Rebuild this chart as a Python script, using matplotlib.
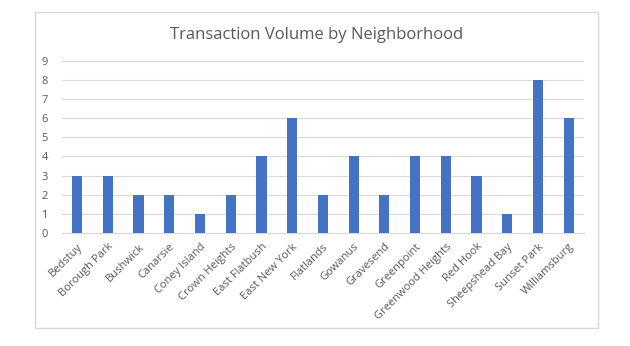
import matplotlib.pyplot as plt
from matplotlib.patches import Rectangle

neighborhoods = ["Bedstuy", "Borough Park", "Bushwick", "Canarsie", "Coney Island",
                 "Crown Heights", "East Flatbush", "East New York", "Flatlands",
                 "Gowanus", "Gravesend", "Greenpoint", "Greenwood Heights",
                 "Red Hook", "Sheepshead Bay", "Sunset Park", "Williamsburg"]
volumes = [3, 3, 2, 2, 1, 2, 4, 6, 2, 4, 2, 4, 4, 3, 1, 8, 6]
y_ticks = list(range(0, 10))

plt.rcParams['font.family'] = ['Open Sans', 'DejaVu Sans']

fig = plt.figure(figsize=(6.3, 3.46), dpi=100)
ax = fig.add_axes([0.098, 0.327, 0.829, 0.497])

# outer chart border
fig.patches.append(Rectangle((35/630, 1-328/346), 563/630, 316/346,
                             transform=fig.transFigure, fill=False,
                             edgecolor="#D9D9D9", linewidth=1))

x = range(len(neighborhoods))
ax.bar(x, volumes, width=0.33, color="#4472C4", zorder=3)

ax.set_xlim(-0.5, len(neighborhoods) - 0.5)
ax.set_ylim(0, 9)
ax.set_yticks(y_ticks)
ax.yaxis.grid(True, color="#D9D9D9", linewidth=0.8, zorder=0)
ax.set_xticks(list(x))
ax.set_xticklabels(neighborhoods, rotation=45, ha="right", rotation_mode="anchor")
ax.tick_params(axis="both", length=0, labelsize=8, colors="#595959")
ax.tick_params(axis="x", pad=6)
ax.tick_params(axis="y", pad=10)
for side in ["top", "right", "left"]:
    ax.spines[side].set_visible(False)
ax.spines["bottom"].set_color("#D9D9D9")

fig.text(0.503, 0.9, "Transaction Volume by Neighborhood", ha="center", va="center",
         fontsize=12, color="#595959")

plt.savefig("out.png", dpi=100)
